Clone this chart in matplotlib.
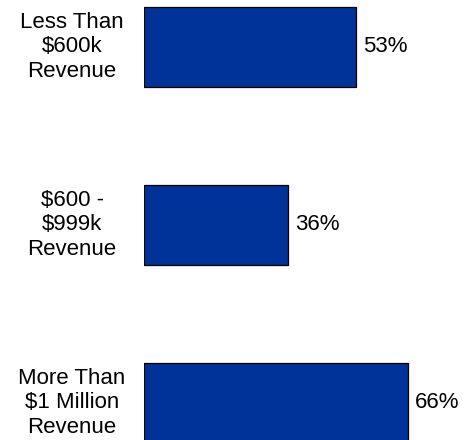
import matplotlib
matplotlib.use("Agg")
import matplotlib.pyplot as plt

plt.rcParams['font.family'] = ['Liberation Sans', 'DejaVu Sans']

# revenue bands and share of respondents
categories = ["Less Than\n$600k\nRevenue", "$600 -\n$999k\nRevenue", "More Than\n$1 Million\nRevenue"]
shares = [53, 36, 66]

fig = plt.figure(figsize=(4.73, 4.40), dpi=100)
ax = fig.add_axes([144 / 473, 0.0, 1 - 144 / 473, 1.0])

pos = list(range(len(categories)))
ax.barh(pos, shares, height=0.45, color="#003399", edgecolor="black", linewidth=0.9)

ax.set_xlim(0, 82.25)
ax.set_ylim(2.208, -0.264)

for y, v, lab in zip(pos, shares, categories):
    ax.text(v + 1.7, y, f"{v}%", ha="left", va="center", fontsize=16)
    ax.text(-18, y, lab, ha="center", va="center", fontsize=16,
            multialignment="center", linespacing=1.2, clip_on=False)

ax.axis("off")
fig.savefig("out.png", dpi=100)
